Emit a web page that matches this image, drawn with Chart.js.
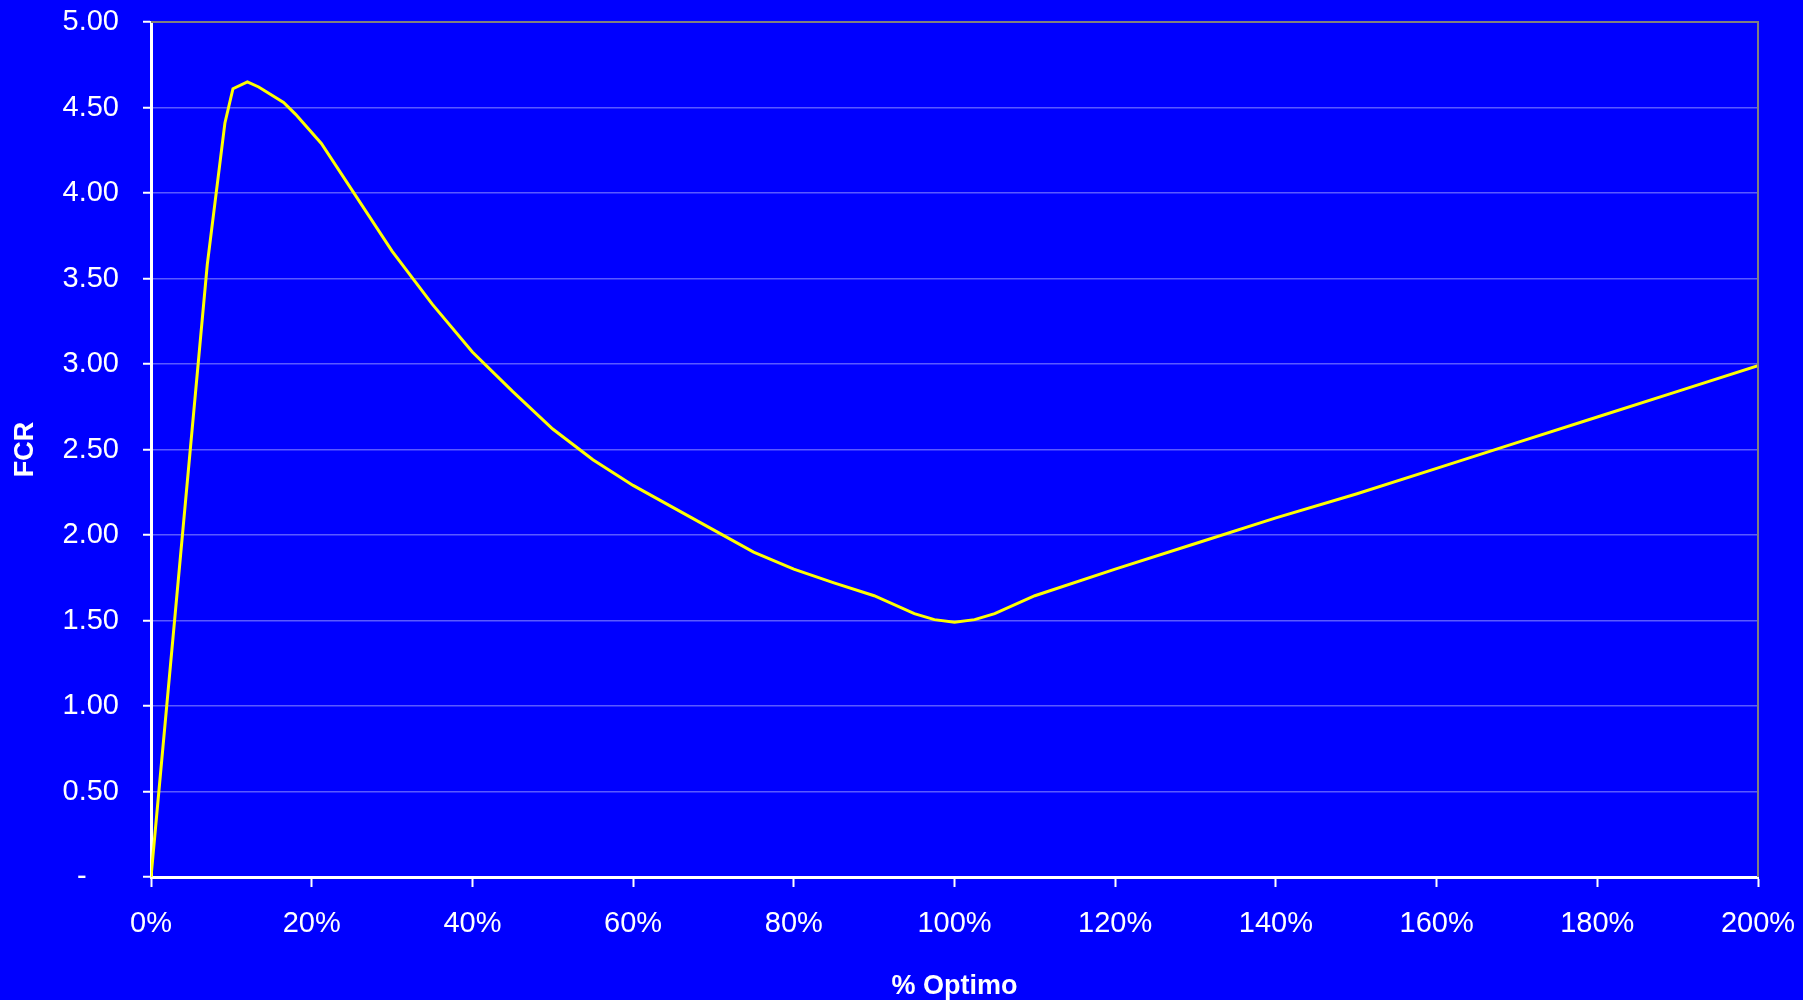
<!DOCTYPE html>
<html>
<head>
<meta charset="utf-8">
<script src="https://cdn.jsdelivr.net/npm/chart.js@4"></script>
<style>
    html, body { margin: 0; padding: 0; background: #0000ff; }
    #wrap { width: 1803px; height: 1000px; position: relative; }
</style>
</head>
<body>
<div id="wrap"><canvas id="fcrChart"></canvas></div>
<script>
// % of optimum vs FCR
let optimoPct = [0, 7, 9.2, 10.2, 12, 13.4, 16.5, 18, 21.2, 30, 35, 40, 45, 50, 55, 60, 65, 70, 75, 80, 85, 90, 95, 97.5, 100, 102.5, 105, 110, 120, 130, 140, 150, 160, 170, 180, 190, 200];
let fcrValues = [0, 3.58, 4.41, 4.61, 4.65, 4.62, 4.53, 4.46, 4.29, 3.66, 3.35, 3.07, 2.84, 2.62, 2.44, 2.29, 2.16, 2.03, 1.90, 1.80, 1.72, 1.645, 1.54, 1.505, 1.49, 1.505, 1.54, 1.645, 1.80, 1.95, 2.10, 2.24, 2.39, 2.54, 2.69, 2.84, 2.99];

// axis settings
let xTitle = "% Optimo";
let yTitle = "FCR";

let points = [];
for (let i = 0; i < optimoPct.length; i++) {
    points.push({ x: optimoPct[i], y: fcrValues[i] });
}

// gray frame on the top and right of the plot area
const frameLines = {
    id: 'frameLines',
    afterDatasetsDraw: function(chart) {
        var ctx = chart.ctx,
            a = chart.chartArea;
        ctx.save();
        ctx.strokeStyle = "#808080";
        ctx.lineWidth = 2;
        ctx.beginPath();
        ctx.moveTo(a.left, a.top);
        ctx.lineTo(a.right, a.top);
        ctx.lineTo(a.right, a.bottom);
        ctx.stroke();
        ctx.restore();
    }
};

var tickFont = { family: "'Liberation Sans', Arial, sans-serif", size: 29 };
var titleFont = { family: "'Liberation Sans', Arial, sans-serif", size: 27, weight: 'bold', lineHeight: 1.0 };

var fcrChart = new Chart(document.getElementById('fcrChart'), {
    type: 'line',
    plugins: [frameLines],
    data: {
        datasets: [{
            data: points,
            borderColor: "#ffff00",
            borderWidth: 3,
            pointRadius: 0,
            tension: 0,
            fill: false
        }]
    },
    options: {
        responsive: true,
        maintainAspectRatio: false,
        animation: false,
        layout: {
            padding: { left: 0, right: 45, top: 22, bottom: 0 }
        },
        plugins: {
            legend: { display: false },
            tooltip: { enabled: false }
        },
        scales: {
            x: {
                type: 'linear',
                min: 0,
                max: 200,
                // fixed axis height, no extra room for the end labels
                afterFit: function(scale) {
                    scale.height = 123;
                    scale.paddingLeft = 0;
                    scale.paddingRight = 0;
                },
                ticks: {
                    stepSize: 20,
                    color: "#ffffff",
                    font: tickFont,
                    padding: 20,
                    maxRotation: 0,
                    callback: function(v) { return v + "%"; }
                },
                grid: {
                    drawOnChartArea: false,
                    drawTicks: true,
                    tickLength: 10,
                    tickColor: "#ffffff",
                    tickWidth: 2
                },
                border: { color: "#ffffff", width: 3 },
                title: {
                    display: true,
                    text: xTitle,
                    color: "#ffffff",
                    font: titleFont,
                    padding: { top: 0, bottom: 0 }
                }
            },
            y: {
                min: 0,
                max: 5,
                afterFit: function(scale) {
                    scale.width = 151;
                    scale.paddingTop = 0;
                    scale.paddingBottom = 0;
                },
                ticks: {
                    stepSize: 0.5,
                    color: "#ffffff",
                    font: tickFont,
                    padding: 24,
                    // zero shows as a dash, set in from the others
                    callback: function(v) { return v === 0 ? "-    " : v.toFixed(2); }
                },
                grid: {
                    color: "#5a5aff",
                    lineWidth: 1.5,
                    tickLength: 8,
                    tickColor: "#ffffff",
                    tickWidth: 2
                },
                border: { color: "#ffffff", width: 3 },
                title: {
                    display: true,
                    text: yTitle,
                    color: "#ffffff",
                    font: titleFont,
                    padding: { top: 12, bottom: 0 }
                }
            }
        }
    }
});
</script>
</body>
</html>
